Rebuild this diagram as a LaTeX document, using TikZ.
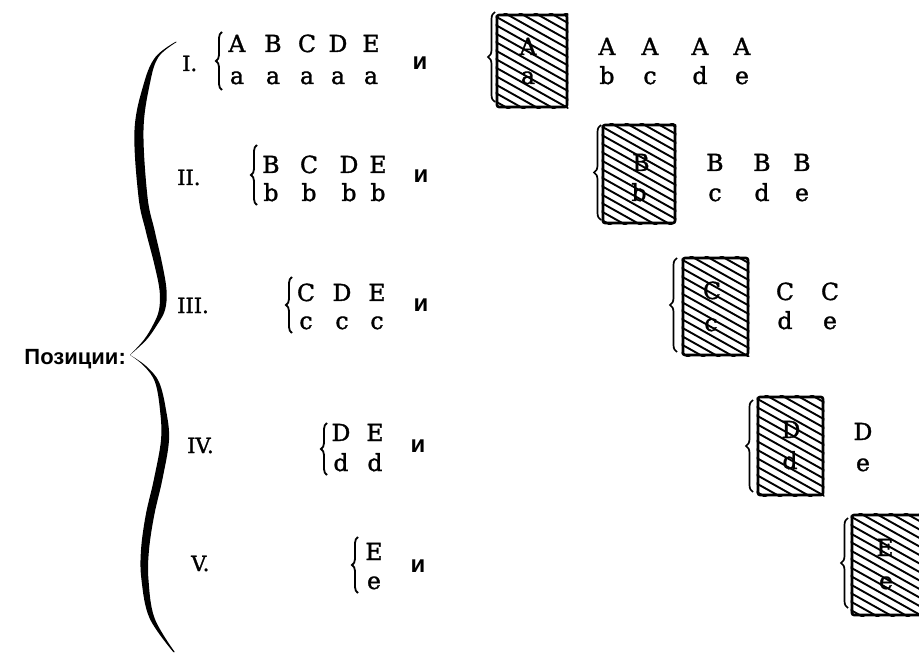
\documentclass[tikz,border=0pt]{standalone}
\usepackage{fontspec}
\setmainfont{DejaVu Serif}
\newfontfamily\letfont[FakeBold=1.4]{DejaVu Serif}
\newfontfamily\cyrfont{Liberation Sans}
\usetikzlibrary{decorations.pathreplacing,calc}
\tikzset{
  lt/.style={font=\letfont\fontsize{23.5}{23.5}\selectfont, inner sep=0pt, anchor=base},
  num/.style={font=\letfont\fontsize{21}{21}\selectfont, inner sep=0pt, anchor=base west},
  conj/.style={font=\cyrfont\bfseries\fontsize{24}{24}\selectfont, inner sep=0pt, anchor=base},
  poslabel/.style={font=\cyrfont\bfseries\fontsize{22}{22}\selectfont, inner sep=0pt, anchor=base east},
  smallbrace/.style={decorate, decoration={brace, amplitude=6pt}, line width=1.8pt},
  boxbrace/.style={decorate, decoration={brace, amplitude=7pt}, line width=1.7pt},
  hbox/.style={draw, line width=2.6pt, rounded corners=2pt, inner sep=0pt},
  hatch/.style={line width=1.9pt},
}
\newcommand{\hatchbox}[4]{%
  \node[hbox, minimum width=#3, minimum height=#4] (#1) at (#2) {};
  \begin{scope}
    \clip (#1.south west) rectangle (#1.north east);
    \foreach \k in {-8,...,15} \draw[hatch] ($(#1.north west)+(-5,\k*8.5)$) -- ++(100,56);
  \end{scope}
}
\begin{document}
\begin{tikzpicture}[x=1pt,y=-1pt]
\useasboundingbox (0,0) rectangle (919,655);

% big brace
\coordinate (tip) at (130,355);
\fill plot[smooth, tension=0.6] coordinates {(175.25,42) (155.5,57) (144,83) (134.5,130) (138.5,197) (145.5,230) (154,263) (159.5,290) (159,310) (153,325) (143.75,340) (130,355)}
  -- plot[smooth, tension=0.6] coordinates {(130,355) (146.25,340) (157,325) (165,310) (166.5,290) (162,263) (154.5,230) (147.5,197) (143.5,130) (150,83) (158.5,57) (176.75,42)} -- cycle;
\fill plot[smooth, tension=0.6] coordinates {(130,355) (144,366) (155,382) (160,410) (161,440) (153.75,480) (145.75,515) (141,550) (141.5,580) (149.5,618) (173.25,652)}
  -- plot[smooth, tension=0.6] coordinates {(174.75,652) (154.5,618) (148.5,580) (149,550) (154.25,515) (162.25,480) (169,440) (166,410) (159,382) (146,366) (130,355)} -- cycle;
\node[poslabel] (pos) at (126,364) {Позиции:};

% roman numerals
\node[num] (n1) at (182,71) {I.};
\node[num] (n2) at (177,185) {II.};
\node[num] (n3) at (177,313) {III.};
\node[num] (n4) at (187,453) {IV.};
\node[num] (n5) at (191,571) {V.};

% left braces
\draw[smallbrace] (222,90) -- (222,32);
\draw[smallbrace] (257,205) -- (257,145);
\draw[smallbrace] (292,333) -- (292,277);
\draw[smallbrace] (327,475) -- (327,423);
\draw[smallbrace] (358,593) -- (358,537);

% left letters
\foreach \L/\x [count=\i] in {A/237,B/273,C/307,D/338,E/371} \node[lt] (lu1\i) at (\x,52) {\L};
\foreach \L/\x [count=\i] in {a/237,a/273,a/307,a/338,a/371} \node[lt] (ll1\i) at (\x,84) {\L};
\foreach \L/\x [count=\i] in {B/271,C/309,D/349,E/378} \node[lt] (lu2\i) at (\x,173) {\L};
\foreach \L/\x [count=\i] in {b/271,b/309,b/349,b/378} \node[lt] (ll2\i) at (\x,201) {\L};
\foreach \L/\x [count=\i] in {C/306,D/342,E/377} \node[lt] (lu3\i) at (\x,301) {\L};
\foreach \L/\x [count=\i] in {c/306,c/342,c/377} \node[lt] (ll3\i) at (\x,329) {\L};
\foreach \L/\x [count=\i] in {D/341,E/375} \node[lt] (lu4\i) at (\x,441) {\L};
\foreach \L/\x [count=\i] in {d/341,d/375} \node[lt] (ll4\i) at (\x,471) {\L};
\node[lt] (lu51) at (374,560) {E};
\node[lt] (ll51) at (374,589) {e};

% conjunctions
\node[conj] (c1) at (420,70) {и};
\node[conj] (c2) at (421,183) {и};
\node[conj] (c3) at (421,312) {и};
\node[conj] (c4) at (418,452) {и};
\node[conj] (c5) at (418,572) {и};

% right braces
\draw[boxbrace] (495,102) -- (495,12);
\draw[boxbrace] (601,220) -- (601,125);
\draw[boxbrace] (677,352) -- (677,258);
\draw[boxbrace] (753,492) -- (753,400);
\draw[boxbrace] (848,608) -- (848,518);

% hatched boxes
\hatchbox{b1}{532,61}{70pt}{92pt}
\hatchbox{b2}{639,174}{72pt}{98pt}
\hatchbox{b3}{715.5,306.5}{65pt}{97pt}
\hatchbox{b4}{790.5,446}{65pt}{98pt}
\hatchbox{b5}{888.5,565}{73pt}{100pt}
\node[lt] (b1u) at (528,55) {A};
\node[lt] (b1l) at (528,84) {a};
\node[lt] (b2u) at (641,171) {B};
\node[lt] (b2l) at (639,201) {b};
\node[lt] (b3u) at (712,299) {C};
\node[lt] (b3l) at (711,331) {c};
\node[lt] (b4u) at (791,438) {D};
\node[lt] (b4l) at (790,469) {d};
\node[lt] (b5u) at (885,556) {E};
\node[lt] (b5l) at (886,589) {e};

% right letters
\foreach \x [count=\i] in {607,650,700,742} \node[lt] (ru1\i) at (\x,55) {A};
\foreach \L/\x [count=\i] in {b/607,c/650,d/700,e/742} \node[lt] (rl1\i) at (\x,84) {\L};
\foreach \x [count=\i] in {715,762,802} \node[lt] (ru2\i) at (\x,171) {B};
\foreach \L/\x [count=\i] in {c/715,d/762,e/802} \node[lt] (rl2\i) at (\x,201) {\L};
\foreach \x [count=\i] in {785,830} \node[lt] (ru3\i) at (\x,300) {C};
\foreach \L/\x [count=\i] in {d/785,e/830} \node[lt] (rl3\i) at (\x,329) {\L};
\node[lt] (ru41) at (863,440) {D};
\node[lt] (rl41) at (863,471) {e};
\end{tikzpicture}
\end{document}
